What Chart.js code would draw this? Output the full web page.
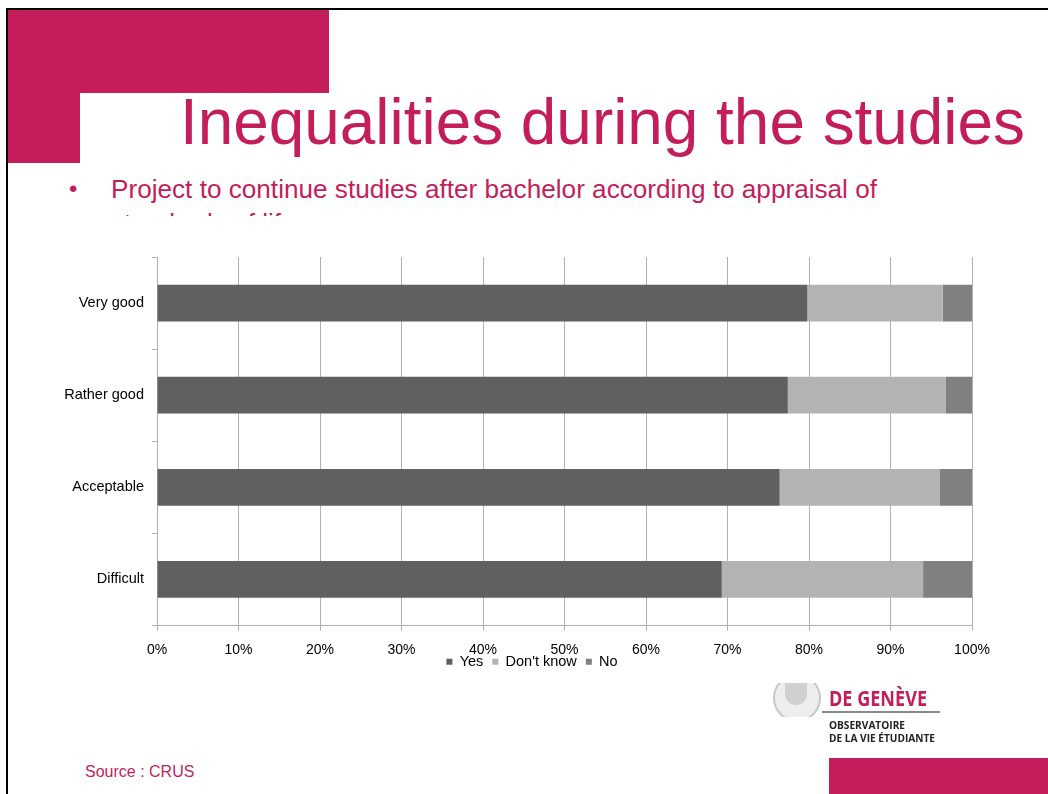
<!DOCTYPE html>
<html>
<head>
<meta charset="utf-8">
<script src="https://cdn.jsdelivr.net/npm/chart.js@4.4.0/dist/chart.umd.min.js"></script>
<style>
html,body{margin:0;padding:0;background:#fff;}
body{width:1048px;height:794px;position:relative;overflow:hidden;font-family:"Liberation Sans",Arial,sans-serif;}
.abs{position:absolute;}
.fit{position:absolute;white-space:nowrap;transform-origin:0 0;}
</style>
</head>
<body>
<!-- slide frame -->
<div class="abs" style="left:6px;top:8px;width:1042px;height:2px;background:#000;"></div>
<div class="abs" style="left:6px;top:8px;width:2px;height:786px;background:#000;"></div>
<div class="abs" style="left:8px;top:10px;width:321px;height:83px;background:#C31E5B;"></div>
<div class="abs" style="left:8px;top:93px;width:72px;height:70px;background:#C31E5B;"></div>

<div class="fit" data-w="845" style="left:180px;top:84px;font-size:64px;line-height:76px;color:#C31E5B;">Inequalities during the studies</div>

<div class="abs" style="left:69px;top:175px;font-size:24px;line-height:28px;color:#C31E5B;">•</div>
<div class="abs" style="left:0;top:170px;width:1000px;height:46px;overflow:hidden;">
  <div class="fit" data-w="766" style="left:111px;top:2px;font-size:26px;line-height:34px;color:#C31E5B;">Project to continue studies after bachelor according to appraisal of<br>standards of life</div>
</div>

<div class="abs" style="left:0;top:230px;width:1048px;height:459px;">
  <canvas id="c" width="1048" height="459"></canvas>
</div>

<!-- logo -->
<div class="abs" style="left:770px;top:683px;width:54px;height:34px;overflow:hidden;">
  <div class="abs" style="left:3px;top:-9px;width:44px;height:44px;border-radius:50%;border:2px solid #c8c8c8;background:#eeeeee;"></div>
  <div class="abs" style="left:15px;top:-2px;width:22px;height:24px;border-radius:0 0 11px 11px;background:#d0d0d0;"></div>
</div>
<div class="fit" data-w="98" style="left:829px;top:684px;font-size:22px;line-height:26px;font-weight:bold;color:#C31E5B;font-family:'Open Sans','Liberation Sans',sans-serif;">DE GENÈVE</div>
<div class="abs" style="left:822px;top:711px;width:118px;height:2px;background:#8a8a8a;"></div>
<div class="fit" data-w="76" style="left:829px;top:718px;font-size:11px;line-height:13px;font-weight:bold;color:#222;font-family:'Open Sans','Liberation Sans',sans-serif;">OBSERVATOIRE</div>
<div class="fit" data-w="106" style="left:829px;top:731px;font-size:11px;line-height:13px;font-weight:bold;color:#222;font-family:'Open Sans','Liberation Sans',sans-serif;">DE LA VIE ÉTUDIANTE</div>

<div class="abs" style="left:85px;top:762px;font-size:16px;line-height:20px;color:#C31E5B;">Source : CRUS</div>
<div class="abs" style="left:829px;top:758px;width:219px;height:36px;background:#C31E5B;"></div>

<script>
const categories = ["Very good", "Rather good", "Acceptable", "Difficult"];
const seriesNames = ["Yes", "Don't know", "No"];
const yesValues = [79.8, 77.4, 76.4, 69.3];
const dontKnowValues = [16.6, 19.4, 19.6, 24.7];
const noValues = [3.6, 3.2, 4.0, 6.0];
const xTicks = [0, 10, 20, 30, 40, 50, 60, 70, 80, 90, 100];

document.querySelectorAll('.fit[data-w]').forEach(el => {
  const target = parseFloat(el.dataset.w);
  const lines = el.innerHTML.split('<br>');
  const tmp = document.createElement('span');
  tmp.style.cssText = el.style.cssText;
  tmp.style.position = 'absolute';
  tmp.style.visibility = 'hidden';
  tmp.style.whiteSpace = 'nowrap';
  tmp.textContent = lines[0];
  document.body.appendChild(tmp);
  const measureW = tmp.getBoundingClientRect().width;
  tmp.remove();
  el.style.transform = 'scaleX(' + (target / measureW) + ')';
});

const colors = ["#606060", "#b3b3b3", "#808080"];
const gridColor = "#b0b0b0";

const legendShift = {
  id: 'legendShift',
  afterLayout(chart) {
    const lg = chart.legend;
    if (lg) { lg.top -= 10; lg.bottom -= 10; lg.left += 46; lg.right += 46; }
  }
};

new Chart(document.getElementById('c'), {
  type: 'bar',
  data: {
    labels: categories,
    datasets: [
      {label: seriesNames[0], data: yesValues, backgroundColor: colors[0]},
      {label: seriesNames[1], data: dontKnowValues, backgroundColor: colors[1]},
      {label: seriesNames[2], data: noValues, backgroundColor: colors[2]}
    ]
  },
  plugins: [legendShift],
  options: {
    indexAxis: 'y',
    responsive: false,
    animation: false,
    devicePixelRatio: 1,
    datasets: {bar: {barPercentage: 0.4, categoryPercentage: 1.0, borderWidth: 0}},
    layout: {padding: {left: 0, right: 76, top: 27, bottom: 0}},
    scales: {
      x: {
        stacked: true,
        min: 0, max: 100,
        afterBuildTicks: s => { s.ticks = xTicks.map(v => ({value: v})); },
        afterFit: s => { s.height = 30; },
        ticks: {callback: v => v + '%', color: '#000', font: {family: 'Liberation Sans', size: 14}, padding: 11, maxRotation: 0},
        grid: {color: gridColor, tickLength: 5, lineWidth: 1},
        border: {color: gridColor}
      },
      y: {
        stacked: true,
        afterFit: s => { s.width = 157; },
        ticks: {color: '#000', font: {family: 'Liberation Sans', size: 14.5}, padding: 8},
        grid: {drawOnChartArea: false, offset: true, color: gridColor, tickLength: 5},
        border: {color: gridColor}
      }
    },
    plugins: {
      legend: {
        position: 'bottom',
        labels: {
          boxWidth: 6, boxHeight: 6, padding: 9,
          color: '#000',
          font: {family: 'Liberation Sans', size: 14.5}
        }
      },
      tooltip: {enabled: false}
    }
  }
});
</script>
</body>
</html>
